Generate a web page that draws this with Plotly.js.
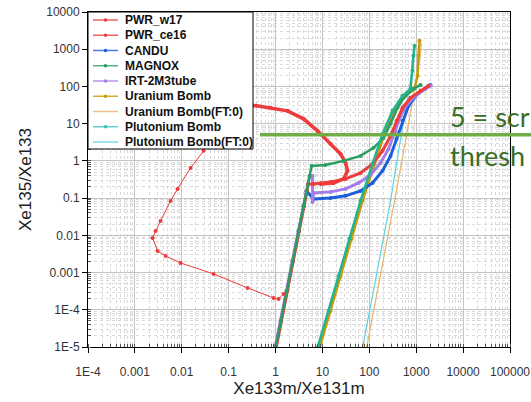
<!DOCTYPE html>
<html><head><meta charset="utf-8">
<script src="https://cdn.plot.ly/plotly-3.0.1.min.js"></script>
<style>html,body{margin:0;padding:0;background:#fff}#chart{width:531px;height:402px}</style>
</head><body><div id="chart"></div>
<script>
// ---- data ----
const pwrW17X = [1.03,1.33,1.78,2.38,3.18,4.05,4.70,5.0,6.46,9.11,14.9,31.1,64.9,117,191,283,380,510,755,1236,1828];
const pwrW17Y = [9.4e-6,5.0e-5,3.2e-4,2.05e-3,0.0131,0.0617,0.156,0.241,0.241,0.252,0.272,0.328,0.475,0.83,1.86,4.7,11.9,26.6,49.4,76.2,104];

const pwrCe16ArcX = [0.110,0.179,0.394,0.782,1.80,3.95,7.86,14.9,24.3,31.1,34.3,28.2,17.3,9.11];
const pwrCe16ArcY = [32.0,34.1,30.1,26.6,22.1,13.5,6.4,2.86,1.54,0.88,0.54,0.328,0.256,0.241];
const pwrCe16TailX = [0.110,0.0609,0.0292,0.0154,0.00813,0.00577,0.00353,0.00276,0.00238,0.00305,0.00452,0.00942,0.0477,0.253,0.906,1.16,1.48];
const pwrCe16TailY = [32.0,10.5,1.86,0.649,0.177,0.084,0.0244,0.0131,0.0085,0.00381,0.00279,0.00181,9.2e-4,3.86e-4,2.08e-4,1.95e-4,2.66e-4];

const canduX = [1.0,1.30,1.74,2.33,3.12,3.97,4.60,6.46,14.9,31.1,64.9,117,191,283,380,510,685,1067,1828,2018];
const canduY = [9.4e-6,5.0e-5,3.2e-4,2.05e-3,0.0131,0.0617,0.156,0.095,0.101,0.115,0.156,0.256,0.54,1.36,3.9,11.9,30.1,63.2,104,110];

const magnoxX = [1.0,1.30,1.74,2.33,3.12,3.97,4.60,5.33,5.86,11.6,28.2,64.9,123,201,283,399,536,875,1236];
const magnoxY = [9.4e-6,5.0e-5,3.2e-4,2.05e-3,0.0131,0.0617,0.156,0.395,0.73,0.78,1.0,1.36,2.24,4.15,9.9,26.6,49.4,86.2,110];

const irtX = [0.97,1.27,1.70,2.28,3.05,3.90,4.50,4.85,5.33,6.15,6.15,6.46,14.9,31.1,58.9,106,173,257,362,463,653,966,1578,2018];
const irtY = [9.4e-6,5.0e-5,3.2e-4,2.05e-3,0.0131,0.0617,0.156,0.241,0.395,0.395,0.079,0.138,0.147,0.177,0.256,0.42,0.88,2.10,6.4,16.2,34.1,55.9,86.2,104];

const uBombX = [8.67,14.9,24.3,41.7,71.6,129,211,345,591,920,1067,1120,1175];
const uBombY = [9.4e-6,9.3e-5,8.1e-4,8.0e-3,0.084,0.83,5.3,22.1,55.9,86.2,193,665,1683];

const uBombFtX = [87.2,173,345,591,834,1175,1297];
const uBombFtY = [9.4e-6,8.1e-4,0.084,3.45,41,488,1486];

const puBombX = [7.86,13.5,22.0,37.8,64.9,117,191,312,510,755,834,875,920];
const puBombY = [9.4e-6,9.3e-5,8.1e-4,8.0e-3,0.084,0.83,5.3,22.1,55.9,86.2,262,665,1233];

const puBombFtX = [71.6,142,283,420,591,794,920];
const puBombFtY = [9.4e-6,8.1e-4,0.084,1.86,22.1,193,1233];

const legendNames = ['PWR_w17','PWR_ce16','CANDU','MAGNOX','IRT-2M3tube','Uranium Bomb','Uranium Bomb(FT:0)','Plutonium Bomb','Plutonium Bomb(FT:0)'];
const xTickVals = [1e-4,1e-3,1e-2,1e-1,1,10,100,1000,1e4,1e5];
const xTickText = ['1E-4','0.001','0.01','0.1','1','10','100','1000','10000','100000'];
const yTickVals = [1e-5,1e-4,1e-3,1e-2,1e-1,1,10,100,1000,1e4];
const yTickText = ['1E-5','1E-4','0.001','0.01','0.1','1','10','100','1000','10000'];
const thresholdValue = 5;
const thresholdText = ['5 = scr', 'thresh'];

// ---- styles ----
const C = {
  red: '#ee3b3b', blue: '#1d5fd9', green: '#2a9e62', purple: '#a47de6',
  gold: '#c99a06', tan: '#e8b468', teal: '#22b38f', cyan: '#5fd3e0'
};
const legendColors = [C.red, C.red, C.blue, C.green, C.purple, C.gold, C.tan, '#3cc4c0', C.cyan];
const legendMarker = [true,true,true,true,true,true,false,true,false];

function tr(x, y, color, w, msize) {
  return {x: x, y: y, type: 'scatter', mode: msize ? 'lines+markers' : 'lines',
    line: {color: color, width: w}, marker: {color: color, size: msize || 0},
    showlegend: false, hoverinfo: 'skip'};
}
const traces = [
  tr(uBombFtX, uBombFtY, C.tan, 1.2),
  tr(puBombFtX, puBombFtY, C.cyan, 1.2),
  tr(uBombX, uBombY, C.gold, 2.5, 4),
  tr(canduX, canduY, C.blue, 3, 4),
  tr(irtX, irtY, C.purple, 3, 4),
  tr(pwrCe16TailX, pwrCe16TailY, C.red, 1, 4),
  tr(pwrW17X, pwrW17Y, C.red, 3, 4),
  tr(pwrCe16ArcX, pwrCe16ArcY, C.red, 3.5, 4),
  tr(magnoxX, magnoxY, C.green, 2.5, 4),
  tr(puBombX, puBombY, C.teal, 2.5, 4)
];

// plot-area geometry (pixels)
const L = 88, R = 510, T = 12, B = 347;
const px = v => (v - L) / (R - L);
const py = v => (B - v) / (B - T);

const shapes = [
  {type: 'line', xref: 'paper', yref: 'y', x0: px(260), x1: 1.2, y0: thresholdValue, y1: thresholdValue,
   line: {color: '#70ad47', width: 3.5}, layer: 'above'},
  {type: 'rect', xref: 'paper', yref: 'paper', x0: 0, x1: px(253), y0: py(149), y1: 1,
   fillcolor: '#ffffff', line: {color: '#000', width: 1}, layer: 'above'}
];
const annotations = [
  {xref: 'paper', yref: 'paper', x: px(448), y: py(116), xanchor: 'left', yanchor: 'middle', showarrow: false,
   text: thresholdText[0], font: {family: 'Lato, Open Sans, sans-serif', size: 27, color: '#3b6e28'}},
  {xref: 'paper', yref: 'paper', x: px(448), y: py(155), xanchor: 'left', yanchor: 'middle', showarrow: false,
   text: thresholdText[1], font: {family: 'Lato, Open Sans, sans-serif', size: 27, color: '#3b6e28'}}
];
legendNames.forEach((name, i) => {
  const rowY = py(20 + 15.25 * i);
  shapes.push({type: 'line', xref: 'paper', yref: 'paper', x0: px(93), x1: px(118), y0: rowY, y1: rowY,
    line: {color: legendColors[i], width: 1.5}, opacity: 0.8, layer: 'above'});
  if (legendMarker[i]) {
    shapes.push({type: 'circle', xref: 'paper', yref: 'paper', xsizemode: 'pixel', ysizemode: 'pixel',
      xanchor: px(105.5), yanchor: rowY, x0: -1.8, x1: 1.8, y0: -1.8, y1: 1.8,
      fillcolor: legendColors[i], line: {width: 0}, layer: 'above'});
  }
  annotations.push({xref: 'paper', yref: 'paper', x: px(123), y: rowY, xanchor: 'left', yanchor: 'middle',
    showarrow: false, text: '<b>' + name + '</b>',
    font: {family: 'Liberation Sans, Arial, sans-serif', size: 12, color: '#111'}});
});

const axisCommon = {
  type: 'log', tickmode: 'array', showline: true, mirror: true, linecolor: '#000', linewidth: 1,
  ticks: 'outside', ticklen: 5, tickcolor: '#000',
  showgrid: true, gridcolor: '#c4c4c4', gridwidth: 1, zeroline: false,
  tickfont: {family: 'Liberation Sans, Arial, sans-serif', size: 12, color: '#333'},
  minor: {dtick: 'D1', ticks: 'inside', ticklen: 3, tickcolor: '#555', showgrid: true,
          gridcolor: '#d9d9d9', griddash: 'dot', gridwidth: 1}
};
const layout = {
  width: 531, height: 402,
  margin: {l: L, r: 531 - R, t: T, b: 402 - B},
  paper_bgcolor: '#fff', plot_bgcolor: '#fff',
  showlegend: false,
  xaxis: Object.assign({}, axisCommon, {range: [-4, 5], tickvals: xTickVals, ticktext: xTickText,
    ticklabelstandoff: 9,
    title: {text: 'Xe133m/Xe131m', standoff: 3, font: {family: 'Liberation Sans, Arial, sans-serif', size: 17, color: '#222'}}}),
  yaxis: Object.assign({}, axisCommon, {range: [-5, 4], tickvals: yTickVals, ticktext: yTickText,
    title: {text: 'Xe135/Xe133', standoff: 10, font: {family: 'Liberation Sans, Arial, sans-serif', size: 17, color: '#222'}}}),
  shapes: shapes,
  annotations: annotations
};
Plotly.newPlot('chart', traces, layout, {displayModeBar: false, staticPlot: true});
</script>
</body></html>
